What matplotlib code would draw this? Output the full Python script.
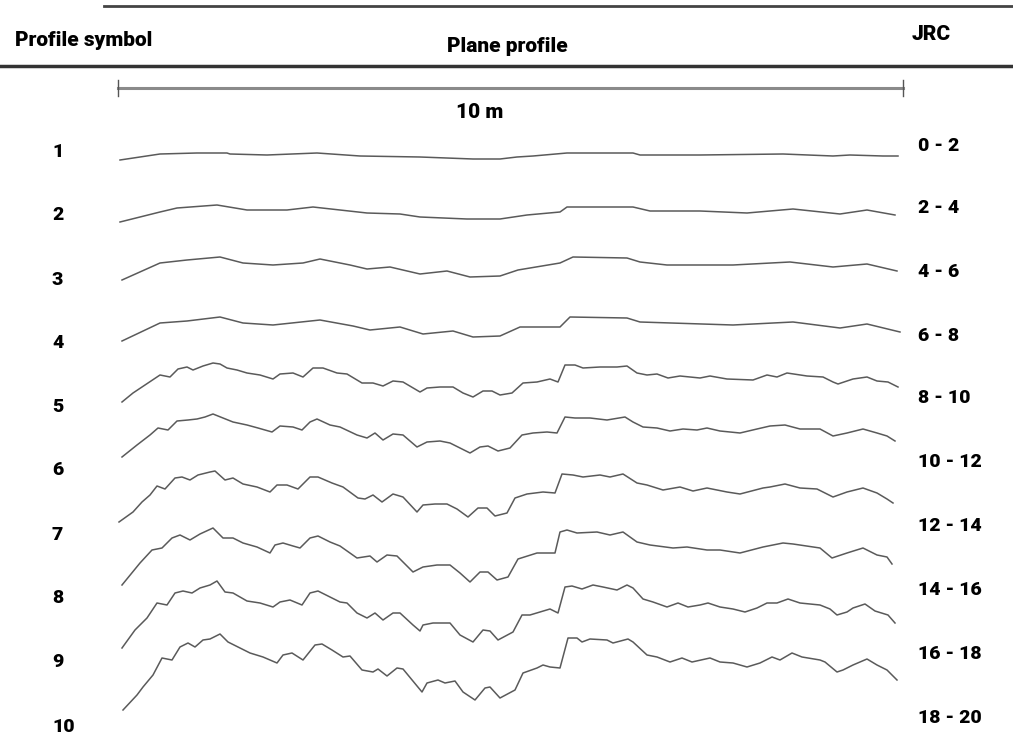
import matplotlib
matplotlib.use("Agg")
import matplotlib.pyplot as plt

# distance along the profile (drawing units, 785 units = 10 m) and elevation above the start point
d1 = [2, 42, 79, 109, 112, 149, 199, 242, 302, 355, 382, 399, 415, 449, 515, 522, 582, 665, 715, 732, 765, 780]
h1 = [0, 6, 7, 7, 6, 5, 7, 4, 3, 1, 1, 3, 4, 7, 7, 5, 5, 6, 4, 5, 4, 4]

d2 = [2, 42, 59, 99, 129, 169, 195, 249, 282, 302, 349, 382, 409, 442, 449, 465, 515, 532, 582, 629, 675, 722, 749, 777]
h2 = [0, 10, 14, 17, 12, 12, 15, 9, 8, 5, 3, 3, 7, 10, 15, 15, 15, 11, 11, 9, 13, 8, 12, 7]

d3 = [4, 42, 69, 102, 125, 155, 185, 202, 232, 249, 272, 302, 329, 352, 382, 400, 442, 455, 509, 522, 549, 615, 672, 715, 749, 779]
h3 = [0, 17, 20, 23, 17, 15, 17, 21, 15, 11, 13, 6, 9, 3, 4, 10, 17, 23, 22, 18, 15, 15, 18, 13, 16, 9]

d4 = [4, 42, 69, 102, 125, 155, 202, 235, 252, 282, 305, 335, 355, 382, 402, 442, 452, 509, 522, 615, 675, 722, 749, 782]
h4 = [0, 18, 20, 24, 18, 16, 21, 15, 11, 14, 7, 10, 4, 5, 14, 14, 24, 23, 19, 16, 19, 13, 17, 9]

d5 = [4, 15, 27, 42, 52, 60, 69, 75, 85, 95, 102, 109, 119, 129, 142, 155, 162, 175, 185, 195,
      205, 219, 229, 244, 255, 265, 275, 285, 302, 309, 322, 335, 345, 355, 365, 374, 382, 394, 405, 419,
      432, 440, 447, 457, 465, 482, 499, 509, 519, 529, 539, 550, 562, 582, 592, 609, 635, 649, 659, 669,
      689, 705, 715, 720, 735, 749, 759, 770, 780]
h5 = [0, 9, 17, 27, 25, 33, 35, 32, 36, 39, 38, 34, 32, 29, 27, 23, 28, 29, 25, 34,
      34, 29, 28, 19, 19, 16, 21, 20, 10, 14, 15, 15, 9, 5, 11, 11, 7, 9, 19, 20,
      23, 20, 37, 37, 34, 35, 35, 36, 29, 27, 28, 24, 26, 24, 26, 23, 22, 27, 25, 29,
      26, 25, 20, 18, 23, 25, 21, 20, 15]

d6 = [4, 19, 32, 40, 50, 59, 70, 79, 87, 95, 105, 115, 129, 140, 154, 162, 175, 184, 192, 199,
      212, 222, 239, 249, 257, 265, 275, 285, 299, 309, 322, 332, 342, 352, 362, 370, 380, 392, 404, 415,
      429, 439, 447, 457, 472, 489, 507, 515, 525, 539, 552, 565, 579, 589, 602, 622, 639, 652, 667, 682,
      702, 715, 729, 745, 759, 769, 777]
h6 = [0, 12, 22, 29, 27, 36, 37, 38, 40, 43, 39, 35, 32, 29, 25, 31, 30, 27, 35, 38,
      32, 30, 22, 19, 24, 17, 23, 22, 10, 15, 16, 14, 9, 4, 10, 11, 6, 9, 22, 24,
      25, 24, 40, 39, 39, 37, 40, 35, 30, 29, 26, 28, 27, 29, 26, 24, 28, 31, 32, 28,
      28, 21, 24, 28, 24, 21, 16]

d7 = [1, 15, 24, 32, 39, 47, 57, 64, 72, 80, 92, 97, 107, 115, 125, 139, 152, 159, 169, 180,
      192, 200, 214, 225, 240, 247, 255, 264, 275, 285, 299, 305, 317, 329, 339, 350, 360, 369, 377, 389,
      397, 409, 425, 437, 444, 455, 465, 482, 492, 505, 519, 529, 545, 562, 575, 589, 609, 622, 645, 652,
      667, 682, 699, 715, 729, 745, 759, 769, 775]
h7 = [0, 10, 20, 27, 36, 33, 44, 45, 42, 47, 50, 51, 42, 44, 38, 35, 30, 37, 37, 33,
      45, 45, 39, 35, 24, 23, 27, 20, 28, 25, 10, 17, 18, 18, 13, 5, 14, 14, 6, 9,
      24, 28, 30, 29, 48, 47, 45, 47, 45, 48, 39, 37, 32, 35, 31, 34, 30, 28, 34, 35,
      38, 34, 33, 25, 30, 34, 29, 23, 19]

d8 = [4, 22, 34, 44, 54, 62, 72, 82, 95, 105, 115, 125, 139, 152, 157, 165, 175, 182, 192, 200,
      212, 222, 239, 252, 259, 269, 279, 295, 305, 319, 332, 342, 352, 362, 370, 379, 390, 400, 419, 437,
      442, 449, 459, 479, 492, 505, 519, 532, 555, 569, 589, 602, 622, 645, 665, 675, 702, 714, 729, 745,
      759, 769, 774]
h8 = [0, 22, 35, 37, 47, 50, 45, 51, 57, 47, 47, 42, 38, 32, 40, 42, 39, 37, 47, 49,
      43, 39, 27, 29, 23, 30, 29, 13, 18, 20, 20, 12, 3, 13, 13, 5, 8, 26, 32, 32,
      53, 55, 52, 53, 50, 53, 43, 40, 37, 38, 35, 35, 32, 38, 42, 41, 37, 27, 32, 37,
      30, 28, 21]

d9 = [4, 17, 29, 39, 49, 57, 65, 74, 82, 92, 99, 107, 115, 129, 142, 155, 162, 172, 184, 192,
      200, 212, 222, 229, 239, 249, 257, 265, 275, 282, 295, 302, 305, 315, 332, 342, 355, 365, 372, 380,
      395, 404, 412, 422, 432, 440, 447, 454, 464, 475, 485, 499, 509, 515, 525, 535, 549, 560, 570, 582,
      590, 602, 615, 627, 639, 649, 659, 670, 682, 702, 712, 719, 729, 735, 747, 757, 770, 777]
h9 = [0, 18, 30, 45, 43, 55, 57, 55, 60, 63, 67, 56, 55, 47, 45, 41, 46, 48, 43, 55,
      57, 51, 46, 45, 35, 30, 35, 28, 35, 35, 23, 17, 23, 25, 25, 13, 6, 18, 17, 8,
      16, 33, 33, 36, 39, 35, 61, 62, 59, 63, 61, 58, 63, 60, 49, 46, 41, 45, 41, 43,
      45, 41, 39, 36, 40, 45, 45, 49, 45, 43, 39, 33, 36, 40, 44, 37, 33, 25]

d10 = [5, 19, 25, 35, 44, 54, 62, 70, 77, 85, 92, 102, 110, 120, 132, 145, 159, 165, 174, 185,
       197, 204, 214, 225, 232, 244, 255, 260, 269, 279, 285, 304, 309, 320, 327, 337, 345, 357, 367, 372,
       382, 397, 405, 419, 425, 432, 442, 450, 459, 464, 472, 489, 495, 510, 515, 529, 539, 552, 564, 574,
       592, 602, 615, 629, 642, 654, 662, 674, 684, 702, 707, 719, 725, 735, 749, 759, 769, 779]
h10 = [0, 15, 23, 35, 52, 50, 63, 67, 63, 70, 71, 76, 68, 63, 57, 53, 47, 55, 57, 50,
       65, 66, 60, 53, 54, 40, 38, 41, 34, 42, 41, 18, 27, 30, 27, 29, 18, 10, 22, 23,
       12, 20, 37, 42, 45, 43, 42, 72, 72, 68, 71, 70, 67, 71, 68, 55, 53, 48, 52, 48,
       52, 48, 47, 43, 47, 53, 50, 57, 53, 50, 48, 38, 40, 45, 51, 45, 40, 30]

profiles = [(d1, h1), (d2, h2), (d3, h3), (d4, h4), (d5, h5),
            (d6, h6), (d7, h7), (d8, h8), (d9, h9), (d10, h10)]
symbols = ["1", "2", "3", "4", "5", "6", "7", "8", "9", "10"]
jrc = ["0 - 2", "2 - 4", "4 - 6", "6 - 8", "8 - 10",
       "10 - 12", "12 - 14", "14 - 16", "16 - 18", "18 - 20"]
bar_len = 785  # drawing units for 10 m

# layout: page rows of each profile start, symbol and JRC label
starts = [160, 222, 280, 341, 402, 457, 522, 585, 648, 710]
sym_y = [152, 215, 280, 343, 407, 470, 535, 598, 662, 727]
jrc_y = [146, 208, 272, 336, 398, 462, 526, 590, 654, 718]

fig = plt.figure(figsize=(10.13, 7.47), dpi=100)
ax = fig.add_axes([0, 0, 1, 1])
ax.set_xlim(-118, 895)
ax.set_ylim(747, 0)
ax.axis("off")

font = ["Roboto", "DejaVu Sans"]

for (ds, hs), s in zip(profiles, starts):
    ax.plot(ds, [s - h for h in hs], color="#5a5a5a", lw=1.1)

# header rules
ax.plot([-14, 895], [6, 6], color="#444444", lw=2)
ax.plot([-118, 895], [66, 66], color="#333333", lw=2.5)

# 10 m scale bar
ax.plot([0, bar_len], [88, 88], color="#8a8a8a", lw=2.2)
ax.plot([0, 0], [80, 96], color="#555555", lw=1)
ax.plot([bar_len, bar_len], [80, 96], color="#555555", lw=1)

tk = dict(family=font, weight="black", fontsize=14, va="center")
hk = dict(family=font, weight="black", fontsize=15, va="center")
ax.text(-103, 40, "Profile symbol", ha="left", **hk)
ax.text(389, 47, "Plane profile", ha="center", **hk)
ax.text(813, 35, "JRC", ha="center", **hk)
ax.text(362, 112, "10 m", ha="center", **hk)

for s, y in zip(symbols, sym_y):
    ax.text(-66, y, s, ha="left", **tk)
for lab, y in zip(jrc, jrc_y):
    ax.text(800, y, lab, ha="left", **tk)

fig.savefig("out.png", dpi=100)
